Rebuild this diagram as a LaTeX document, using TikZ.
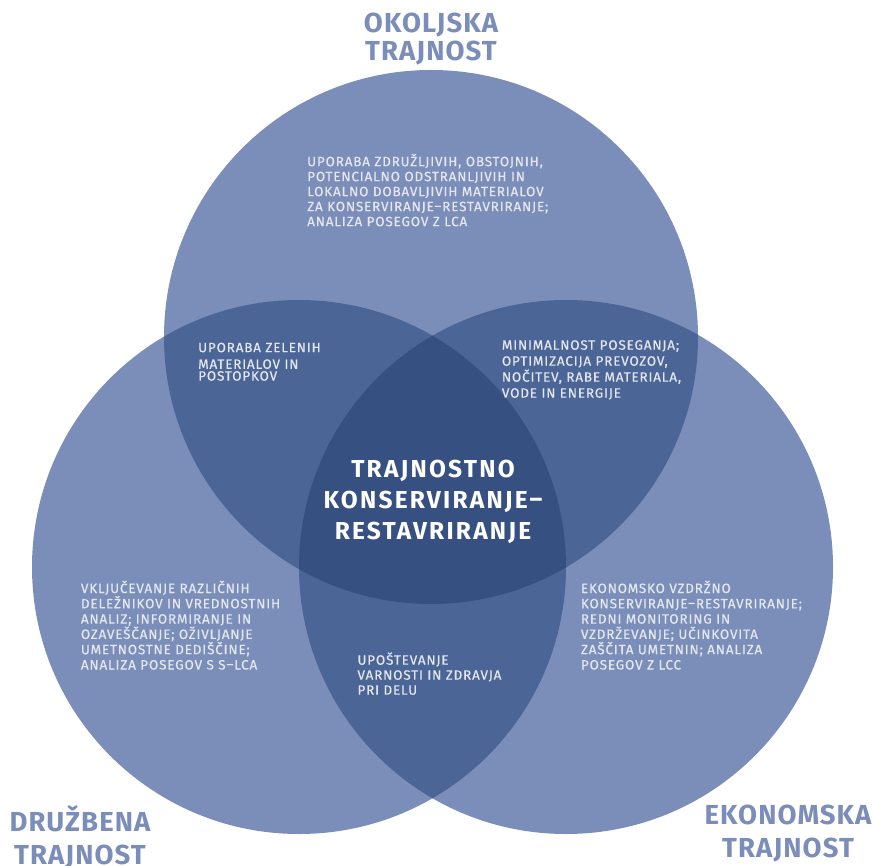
\documentclass[tikz,border=0pt]{standalone}
\usepackage{fontspec}
\setmainfont{Fira Sans}
\newfontfamily\smallfont[LetterSpace=6,FakeBold=0.4,RawFeature={+case}]{Fira Sans}
\newfontfamily\titlefont[LetterSpace=4,RawFeature={+case}]{Fira Sans}
\newfontfamily\centerfont[LetterSpace=9,RawFeature={+case}]{Fira Sans}
\definecolor{cone}{RGB}{123,142,185}
\definecolor{ctwo}{RGB}{74,101,150}
\definecolor{cthree}{RGB}{55,80,130}
\definecolor{ctxt}{RGB}{228,231,240}
\begin{document}
\begin{tikzpicture}[x=1pt,y=-1pt,
  smalltext/.style={anchor=north west, inner sep=0pt, align=left, text=ctxt,
    font=\smallfont\fontsize{13.5}{15}\selectfont},
  centertext/.style={anchor=north, inner sep=0pt, align=center, text=white,
    font=\centerfont\bfseries\fontsize{24.5}{31}\selectfont},
  titletext/.style={anchor=north, inner sep=0pt, align=center, text=cone,
    font=\titlefont\bfseries\fontsize{27.5}{27.5}\selectfont}]
\useasboundingbox (0,0) rectangle (872,866);
\def\vrad{267pt}
\coordinate (T) at (431,337);
\coordinate (L) at (299,567);
\coordinate (R) at (566,567);
% single regions
\fill[cone] (T) circle[radius=\vrad];
\fill[cone] (L) circle[radius=\vrad];
\fill[cone] (R) circle[radius=\vrad];
% pairwise overlaps
\begin{scope}
  \clip (T) circle[radius=\vrad];
  \fill[ctwo] (L) circle[radius=\vrad];
  \fill[ctwo] (R) circle[radius=\vrad];
\end{scope}
\begin{scope}
  \clip (L) circle[radius=\vrad];
  \fill[ctwo] (R) circle[radius=\vrad];
\end{scope}
% triple overlap
\begin{scope}
  \clip (T) circle[radius=\vrad];
  \clip (L) circle[radius=\vrad];
  \fill[cthree] (R) circle[radius=\vrad];
\end{scope}
% titles
\node[titletext] (tTop) at (431,13) {\rule{0pt}{19.5pt}OKOLJSKA\\TRAJNOST};
\node[titletext, font=\titlefont\bfseries\fontsize{27.5}{33}\selectfont] (tLeft) at (80,805) {\rule{0pt}{19.5pt}DRUŽBENA\\TRAJNOST};
\node[titletext, font=\titlefont\bfseries\fontsize{27.5}{33}\selectfont] (tRight) at (788,805) {\rule{0pt}{19.5pt}EKONOMSKA\\TRAJNOST};
% center
\node[centertext] (center) at (433,460) {\rule{0pt}{17pt}TRAJNOSTNO\\KONSERVIRANJE–\\RESTAVRIRANJE};
% region texts
\node[smalltext] (top) at (307,152) {\rule{0pt}{14pt}UPORABA ZDRUŽLJIVIH, OBSTOJNIH,\\POTENCIALNO ODSTRANLJIVIH IN\\LOKALNO DOBAVLJIVIH MATERIALOV\\ZA KONSERVIRANJE–RESTAVRIRANJE;\\ANALIZA POSEGOV Z LCA};
\node[smalltext] (topleft) at (198,338) {\rule{0pt}{14pt}UPORABA ZELENIH\\[1.6pt]MATERIALOV IN\\[-3.2pt]POSTOPKOV};
\node[smalltext, font=\smallfont\fontsize{13.5}{16}\selectfont] (topright) at (501.7,335.5) {\rule{0pt}{14pt}MINIMALNOST POSEGANJA;\\OPTIMIZACIJA PREVOZOV,\\NOČITEV, RABE MATERIALA,\\VODE IN ENERGIJE};
\node[smalltext, font=\smallfont\fontsize{13.5}{15.3}\selectfont] (left) at (80.7,578.8) {\rule{0pt}{14pt}VKLJUČEVANJE RAZLIČNIH\\DELEŽNIKOV IN VREDNOSTNIH\\ANALIZ; INFORMIRANJE IN\\OZAVEŠČANJE; OŽIVLJANJE\\UMETNOSTNE DEDIŠČINE;\\ANALIZA POSEGOV S S–LCA};
\node[smalltext, font=\smallfont\fontsize{13.5}{15.3}\selectfont] (right) at (580.7,578.8) {\rule{0pt}{14pt}EKONOMSKO VZDRŽNO\\KONSERVIRANJE–RESTAVRIRANJE;\\REDNI MONITORING IN\\VZDRŽEVANJE; UČINKOVITA\\ZAŠČITA UMETNIN; ANALIZA\\POSEGOV Z LCC};
\node[smalltext] (bottom) at (357.3,650.5) {\rule{0pt}{14pt}UPOŠTEVANJE\\VARNOSTI IN ZDRAVJA\\PRI DELU};
\end{tikzpicture}
\end{document}
